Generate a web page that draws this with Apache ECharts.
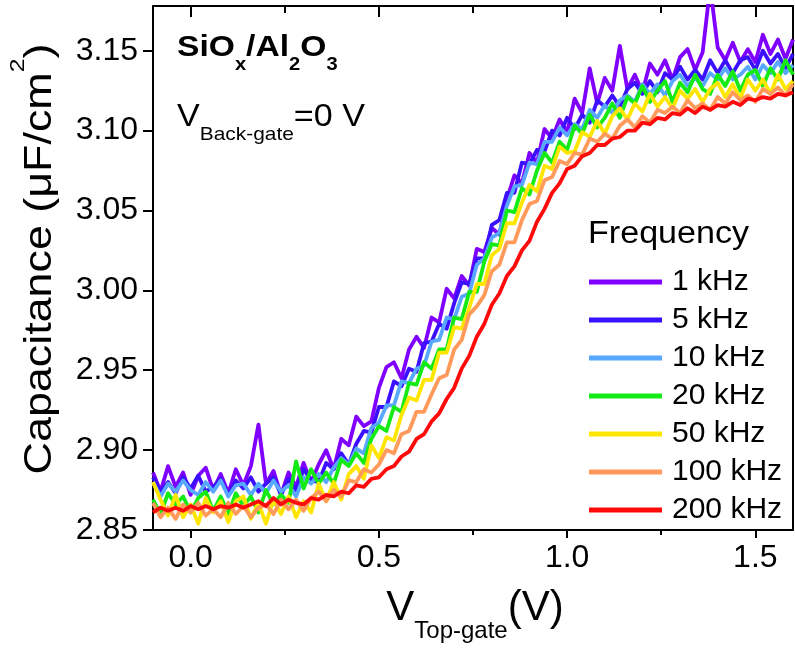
<!DOCTYPE html>
<html>
<head>
<meta charset="utf-8">
<script src="https://cdn.jsdelivr.net/npm/echarts@6/dist/echarts.min.js"></script>
<style>
  html, body { margin: 0; padding: 0; background: #ffffff; }
  #chart { width: 795px; height: 650px; }
</style>
</head>
<body>
<div id="chart"></div>
<script>
// Top-gate sweep voltages (V)
const topGateVoltage = [
  -0.10, -0.08, -0.06, -0.04, -0.02, 0.00, 0.02, 0.04, 0.06, 0.08,
  0.10, 0.12, 0.14, 0.16, 0.18, 0.20, 0.22, 0.24, 0.26, 0.28,
  0.30, 0.32, 0.34, 0.36, 0.38, 0.40, 0.42, 0.44, 0.46, 0.48,
  0.50, 0.52, 0.54, 0.56, 0.58, 0.60, 0.62, 0.64, 0.66, 0.68,
  0.70, 0.72, 0.74, 0.76, 0.78, 0.80, 0.82, 0.84, 0.86, 0.88,
  0.90, 0.92, 0.94, 0.96, 0.98, 1.00, 1.02, 1.04, 1.06, 1.08,
  1.10, 1.12, 1.14, 1.16, 1.18, 1.20, 1.22, 1.24, 1.26, 1.28,
  1.30, 1.32, 1.34, 1.36, 1.38, 1.40, 1.42, 1.44, 1.46, 1.48,
  1.50, 1.52, 1.54, 1.56, 1.58, 1.60
];

// Capacitance (uF/cm^2) at each measurement frequency
const cap1kHz = [
  2.886, 2.874, 2.890, 2.877, 2.886, 2.872, 2.884, 2.889, 2.875, 2.885,
  2.873, 2.888, 2.878, 2.890, 2.916, 2.879, 2.887, 2.872, 2.886, 2.877,
  2.892, 2.880, 2.891, 2.900, 2.888, 2.907, 2.903, 2.921, 2.915, 2.918,
  2.939, 2.952, 2.955, 2.945, 2.963, 2.971, 2.964, 2.983, 2.980, 3.001,
  2.995, 3.009, 3.003, 3.026, 3.024, 3.039, 3.035, 3.057, 3.072, 3.067,
  3.086, 3.080, 3.101, 3.095, 3.107, 3.099, 3.120, 3.111, 3.139, 3.117,
  3.133, 3.125, 3.153, 3.126, 3.135, 3.124, 3.142, 3.135, 3.144, 3.132,
  3.146, 3.151, 3.138, 3.149, 3.190, 3.152, 3.144, 3.155, 3.143, 3.151,
  3.143, 3.160, 3.148, 3.157, 3.145, 3.157
];
const cap5kHz = [
  2.883, 2.874, 2.880, 2.873, 2.883, 2.876, 2.884, 2.874, 2.877, 2.882,
  2.872, 2.881, 2.876, 2.883, 2.874, 2.879, 2.883, 2.872, 2.882, 2.875,
  2.888, 2.881, 2.880, 2.892, 2.888, 2.898, 2.891, 2.904, 2.912, 2.911,
  2.927, 2.927, 2.943, 2.940, 2.951, 2.949, 2.967, 2.968, 2.979, 2.976,
  2.992, 3.005, 3.004, 3.020, 3.020, 3.041, 3.044, 3.061, 3.061, 3.080,
  3.079, 3.088, 3.087, 3.100, 3.097, 3.108, 3.101, 3.110, 3.105, 3.119,
  3.115, 3.122, 3.115, 3.126, 3.130, 3.123, 3.131, 3.124, 3.136, 3.132,
  3.140, 3.132, 3.138, 3.132, 3.144, 3.136, 3.144, 3.136, 3.144, 3.146,
  3.138, 3.150, 3.142, 3.148, 3.139, 3.148
];
const cap10kHz = [
  2.880, 2.871, 2.879, 2.874, 2.881, 2.875, 2.872, 2.880, 2.874, 2.881,
  2.871, 2.878, 2.879, 2.872, 2.879, 2.873, 2.881, 2.874, 2.878, 2.871,
  2.883, 2.879, 2.885, 2.880, 2.889, 2.895, 2.891, 2.901, 2.898, 2.914,
  2.917, 2.928, 2.928, 2.943, 2.942, 2.951, 2.953, 2.968, 2.969, 2.983,
  2.982, 2.996, 2.998, 3.016, 3.020, 3.033, 3.036, 3.053, 3.065, 3.066,
  3.080, 3.079, 3.093, 3.093, 3.102, 3.097, 3.104, 3.101, 3.113, 3.108,
  3.116, 3.111, 3.119, 3.122, 3.118, 3.129, 3.123, 3.129, 3.122, 3.131,
  3.135, 3.128, 3.133, 3.128, 3.136, 3.132, 3.139, 3.132, 3.135, 3.140,
  3.132, 3.141, 3.136, 3.143, 3.136, 3.141
];
const cap20kHz = [
  2.869, 2.860, 2.873, 2.866, 2.871, 2.861, 2.870, 2.874, 2.862, 2.871,
  2.860, 2.873, 2.865, 2.871, 2.861, 2.875, 2.866, 2.872, 2.867, 2.893,
  2.876, 2.888, 2.879, 2.886, 2.879, 2.894, 2.890, 2.898, 2.892, 2.907,
  2.915, 2.912, 2.927, 2.924, 2.942, 2.941, 2.955, 2.951, 2.963, 2.963,
  2.983, 2.982, 2.999, 2.999, 3.018, 3.029, 3.028, 3.050, 3.049, 3.064,
  3.060, 3.075, 3.086, 3.080, 3.093, 3.088, 3.103, 3.098, 3.110, 3.102,
  3.108, 3.117, 3.108, 3.121, 3.117, 3.128, 3.118, 3.125, 3.131, 3.118,
  3.130, 3.124, 3.135, 3.126, 3.123, 3.135, 3.128, 3.137, 3.125, 3.135,
  3.138, 3.128, 3.139, 3.132, 3.144, 3.135
];
const cap50kHz = [
  2.880, 2.869, 2.859, 2.872, 2.858, 2.866, 2.854, 2.870, 2.861, 2.868,
  2.855, 2.868, 2.871, 2.857, 2.867, 2.854, 2.869, 2.860, 2.871, 2.858,
  2.868, 2.861, 2.879, 2.868, 2.880, 2.869, 2.885, 2.890, 2.882, 2.903,
  2.895, 2.908, 2.906, 2.922, 2.933, 2.931, 2.944, 2.944, 2.961, 2.961,
  2.977, 2.976, 2.989, 3.004, 3.004, 3.022, 3.026, 3.042, 3.042, 3.055,
  3.066, 3.062, 3.078, 3.076, 3.090, 3.086, 3.087, 3.099, 3.096, 3.106,
  3.098, 3.109, 3.114, 3.107, 3.117, 3.112, 3.123, 3.115, 3.121, 3.114,
  3.125, 3.120, 3.126, 3.118, 3.126, 3.130, 3.121, 3.129, 3.120, 3.132,
  3.125, 3.132, 3.123, 3.135, 3.126, 3.131
];
const cap100kHz = [
  2.867, 2.858, 2.864, 2.857, 2.866, 2.861, 2.867, 2.859, 2.863, 2.858,
  2.867, 2.860, 2.865, 2.858, 2.864, 2.866, 2.860, 2.869, 2.863, 2.869,
  2.862, 2.870, 2.874, 2.868, 2.875, 2.871, 2.881, 2.880, 2.888, 2.886,
  2.891, 2.900, 2.898, 2.910, 2.912, 2.924, 2.924, 2.935, 2.945, 2.947,
  2.963, 2.969, 2.985, 2.990, 2.997, 3.012, 3.016, 3.030, 3.030, 3.044,
  3.054, 3.056, 3.069, 3.071, 3.081, 3.079, 3.086, 3.085, 3.095, 3.093,
  3.098, 3.095, 3.103, 3.107, 3.102, 3.109, 3.105, 3.113, 3.111, 3.115,
  3.111, 3.119, 3.114, 3.117, 3.113, 3.121, 3.117, 3.124, 3.119, 3.122,
  3.118, 3.126, 3.123, 3.127, 3.122, 3.129
];
const cap200kHz = [
  2.861, 2.864, 2.862, 2.864, 2.862, 2.865, 2.863, 2.865, 2.863, 2.865,
  2.864, 2.866, 2.864, 2.866, 2.868, 2.865, 2.870, 2.866, 2.869, 2.867,
  2.866, 2.870, 2.869, 2.872, 2.871, 2.874, 2.873, 2.878, 2.877, 2.882,
  2.883, 2.888, 2.890, 2.896, 2.899, 2.907, 2.910, 2.918, 2.923, 2.932,
  2.939, 2.951, 2.959, 2.971, 2.979, 2.991, 2.998, 3.009, 3.015, 3.025,
  3.031, 3.043, 3.051, 3.061, 3.067, 3.076, 3.078, 3.084, 3.086, 3.091,
  3.091, 3.095, 3.096, 3.100, 3.100, 3.105, 3.104, 3.108, 3.107, 3.111,
  3.110, 3.114, 3.111, 3.115, 3.113, 3.116, 3.115, 3.118, 3.116, 3.120,
  3.119, 3.121, 3.120, 3.123, 3.122, 3.124
];

const frequencyNames = ['1 kHz', '5 kHz', '10 kHz', '20 kHz', '50 kHz', '100 kHz', '200 kHz'];
const capacitanceSets = [cap1kHz, cap5kHz, cap10kHz, cap20kHz, cap50kHz, cap100kHz, cap200kHz];
const lineColors = ['#7f00ff', '#3a10ff', '#58a8ff', '#14ea14', '#ffe600', '#ff9a5a', '#ff0a0a'];

// Axis ticks
const xMajorTicks = [0, 0.5, 1.0, 1.5];
const xMinorTicks = [0.25, 0.75, 1.25];
const yTicks = [2.85, 2.90, 2.95, 3.00, 3.05, 3.10, 3.15];

const FONT = '"Liberation Sans", Arial, Helvetica, sans-serif';
const INK = '#000000';

const chart = echarts.init(document.getElementById('chart'), null, { renderer: 'canvas' });

const xCommon = { type: 'value', min: -0.1, max: 1.6, gridIndex: 0, splitLine: { show: false } };
const noLine = { show: false, onZero: false };
const frameLine = { show: true, onZero: false, lineStyle: { color: INK, width: 2 } };

const series = frequencyNames.map((name, k) => ({
  name: name,
  type: 'line',
  xAxisIndex: 0,
  yAxisIndex: 0,
  showSymbol: false,
  symbol: 'none',
  clip: true,
  lineStyle: { width: 3.8, color: lineColors[k], join: 'round' },
  itemStyle: { color: lineColors[k] },
  data: topGateVoltage.map((v, i) => [v, capacitanceSets[k][i]])
}));

const option = {
  animation: false,
  backgroundColor: '#ffffff',
  grid: { left: 153, right: 2, top: 6, bottom: 120 },
  xAxis: [
    Object.assign({}, xCommon, {
      position: 'bottom',
      axisLine: frameLine,
      axisTick: { show: true, customValues: xMajorTicks, length: 8, lineStyle: { color: INK, width: 2 } },
      axisLabel: {
        show: true, customValues: xMajorTicks, margin: 12,
        fontSize: 32, fontFamily: FONT, color: INK,
        formatter: v => v.toFixed(1)
      }
    }),
    Object.assign({}, xCommon, {
      position: 'bottom',
      axisLine: noLine,
      axisTick: { show: true, customValues: xMinorTicks, length: 5, lineStyle: { color: INK, width: 2 } },
      axisLabel: { show: false }
    }),
    Object.assign({}, xCommon, {
      position: 'top',
      axisLine: frameLine,
      axisTick: { show: true, inside: true, customValues: xMajorTicks, length: 11, lineStyle: { color: INK, width: 2 } },
      axisLabel: { show: false }
    }),
    Object.assign({}, xCommon, {
      position: 'top',
      axisLine: noLine,
      axisTick: { show: true, inside: true, customValues: xMinorTicks, length: 7, lineStyle: { color: INK, width: 2 } },
      axisLabel: { show: false }
    })
  ],
  yAxis: [
    {
      type: 'value', min: 2.85, max: 3.178, position: 'left',
      splitLine: { show: false },
      axisLine: frameLine,
      axisTick: { show: true, customValues: yTicks, length: 10, lineStyle: { color: INK, width: 2 } },
      axisLabel: {
        show: true, customValues: yTicks, margin: 15,
        fontSize: 32, fontFamily: FONT, color: INK,
        formatter: v => v.toFixed(2)
      }
    },
    {
      type: 'value', min: 2.85, max: 3.178, position: 'right',
      splitLine: { show: false },
      axisLine: frameLine,
      axisTick: { show: false },
      axisLabel: { show: false }
    }
  ],
  legend: {
    data: frequencyNames,
    orient: 'vertical',
    left: 589,
    top: 263,
    padding: 0,
    itemGap: 0,
    itemWidth: 73,
    itemHeight: 5,
    icon: 'rect',
    selectedMode: false,
    textStyle: { fontSize: 30, fontFamily: FONT, color: INK, lineHeight: 38, padding: [0, 0, 0, 5] }
  },
  graphic: [
    {
      type: 'text', x: 177, y: 48, scaleX: 1.12, z: 100,
      style: {
        text: '{m|SiO}{s|x}{m|/Al}{s|2}{m|O}{s|3}',
        fill: INK, align: 'left', verticalAlign: 'middle',
        textAlign: 'left', textVerticalAlign: 'middle',
        rich: {
          m: { fontSize: 30, fontWeight: 'bold', fontFamily: FONT, fill: INK },
          s: { fontSize: 18, fontWeight: 'bold', fontFamily: FONT, fill: INK, padding: [34, 0, 0, 0] }
        }
      }
    },
    {
      type: 'text', x: 177, y: 117, scaleX: 1.1, z: 100,
      style: {
        text: '{m|V}{s|Back-gate}{m|=0 V}',
        fill: INK, align: 'left', verticalAlign: 'middle',
        textAlign: 'left', textVerticalAlign: 'middle',
        rich: {
          m: { fontSize: 31, fontFamily: FONT, fill: INK },
          s: { fontSize: 19, fontFamily: FONT, fill: INK, padding: [36, 0, 0, 0] }
        }
      }
    },
    {
      type: 'text', x: 588, y: 234, scaleX: 1.1, z: 100,
      style: {
        text: 'Frequency', fontSize: 31, fontFamily: FONT, fill: INK,
        font: '31px ' + FONT,
        align: 'left', verticalAlign: 'middle',
        textAlign: 'left', textVerticalAlign: 'middle'
      }
    },
    {
      type: 'text', x: 475, y: 608, z: 100,
      style: {
        text: '{m|V}{s|Top-gate}{m|(V)}',
        fill: INK, align: 'center', verticalAlign: 'middle',
        textAlign: 'center', textVerticalAlign: 'middle',
        rich: {
          m: { fontSize: 42, fontFamily: FONT, fill: INK },
          s: { fontSize: 24, fontFamily: FONT, fill: INK, padding: [46, 0, 0, 0] }
        }
      }
    },
    {
      type: 'text', x: 41, y: 259, rotation: Math.PI / 2, scaleX: 1.18, z: 100,
      style: {
        text: '{m|Capacitance (\u03bcF/cm}{p|2}{m|)}',
        fill: INK, align: 'center', verticalAlign: 'middle',
        textAlign: 'center', textVerticalAlign: 'middle',
        rich: {
          m: { fontSize: 38, fontFamily: FONT, fill: INK },
          p: { fontSize: 21, fontFamily: FONT, fill: INK, padding: [0, 0, 46, 0] }
        }
      }
    }
  ],
  series: series
};

chart.setOption(option);
</script>
</body>
</html>
